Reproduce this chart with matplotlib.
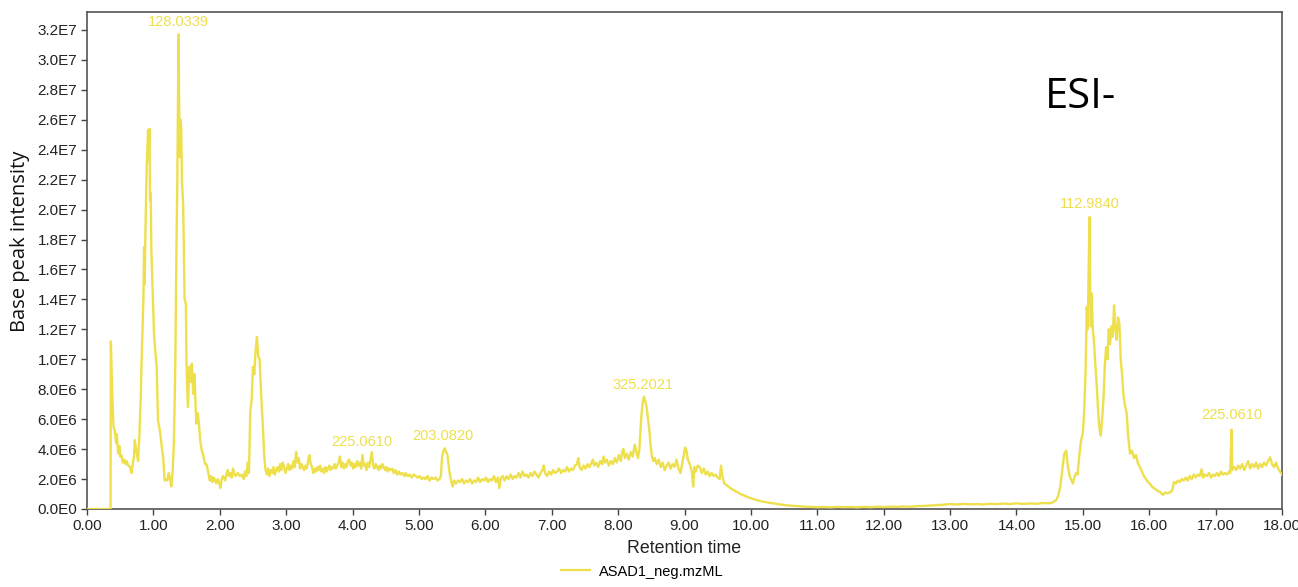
import math
import matplotlib
matplotlib.use("Agg")
import matplotlib.pyplot as plt
from matplotlib.ticker import FuncFormatter, MultipleLocator

# ---- data (retention time in min, base peak intensity in units of 1E6) ----
time_min = [
    0.00, 0.355, 0.36, 0.38, 0.40, 0.42, 0.44, 0.45, 0.47, 0.49, 0.50, 0.52, 0.54, 0.56, 0.58, 0.60,
    0.62, 0.65, 0.67, 0.69, 0.71, 0.72, 0.74, 0.76, 0.77, 0.79, 0.81, 0.82, 0.84, 0.85, 0.86, 0.87,
    0.88, 0.90, 0.92, 0.93, 0.94, 0.95, 0.96, 0.97, 0.99, 1.01, 1.03, 1.05, 1.07, 1.10, 1.12, 1.15,
    1.17, 1.19, 1.21, 1.23, 1.25, 1.27, 1.29, 1.31, 1.33, 1.35, 1.36, 1.38, 1.39, 1.40, 1.41, 1.42,
    1.43, 1.45, 1.47, 1.49, 1.50, 1.52, 1.54, 1.56, 1.58, 1.60, 1.62, 1.64, 1.65, 1.67, 1.69, 1.71,
    1.73, 1.75, 1.78, 1.80, 1.82, 1.85, 1.87, 1.89, 1.91, 1.93, 1.95, 1.97, 1.99, 2.01, 2.03, 2.05,
    2.08, 2.10, 2.12, 2.14, 2.16, 2.18, 2.20, 2.22, 2.24, 2.27, 2.30, 2.33, 2.36, 2.38, 2.40, 2.42,
    2.44, 2.46, 2.48, 2.50, 2.52, 2.54, 2.56, 2.58, 2.60, 2.62, 2.63, 2.65, 2.67, 2.69, 2.71, 2.73,
    2.75, 2.77, 2.79, 2.81, 2.83, 2.85, 2.87, 2.89, 2.91, 2.93, 2.95, 2.97, 2.99, 3.01, 3.03, 3.05,
    3.07, 3.09, 3.11, 3.13, 3.15, 3.17, 3.19, 3.21, 3.23, 3.25, 3.27, 3.29, 3.31, 3.33, 3.35, 3.37,
    3.39, 3.41, 3.43, 3.45, 3.47, 3.49, 3.51, 3.53, 3.55, 3.57, 3.59, 3.61, 3.63, 3.65, 3.67, 3.69,
    3.71, 3.73, 3.75, 3.77, 3.79, 3.81, 3.83, 3.85, 3.87, 3.89, 3.91, 3.93, 3.95, 3.97, 3.99, 4.01,
    4.03, 4.05, 4.07, 4.09, 4.11, 4.13, 4.15, 4.17, 4.19, 4.21, 4.23, 4.25, 4.27, 4.29, 4.31, 4.33,
    4.35, 4.37, 4.39, 4.41, 4.43, 4.45, 4.47, 4.49, 4.51, 4.53, 4.55, 4.57, 4.60, 4.62, 4.65, 4.67,
    4.70, 4.72, 4.75, 4.78, 4.80, 4.83, 4.86, 4.89, 4.92, 4.95, 4.98, 5.01, 5.04, 5.07, 5.10, 5.13,
    5.16, 5.19, 5.22, 5.25, 5.28, 5.31, 5.33, 5.35, 5.37, 5.39, 5.41, 5.43, 5.45, 5.47, 5.49, 5.51,
    5.53, 5.56, 5.59, 5.62, 5.65, 5.68, 5.71, 5.74, 5.77, 5.80, 5.83, 5.86, 5.89, 5.92, 5.95, 5.98,
    6.01, 6.04, 6.07, 6.10, 6.13, 6.16, 6.19, 6.21, 6.23, 6.26, 6.29, 6.32, 6.35, 6.38, 6.41, 6.44,
    6.47, 6.50, 6.53, 6.56, 6.59, 6.62, 6.65, 6.68, 6.71, 6.74, 6.77, 6.80, 6.83, 6.86, 6.88, 6.90,
    6.93, 6.96, 6.99, 7.02, 7.05, 7.08, 7.11, 7.14, 7.17, 7.20, 7.23, 7.26, 7.29, 7.32, 7.35, 7.38,
    7.40, 7.42, 7.45, 7.48, 7.51, 7.54, 7.57, 7.60, 7.62, 7.64, 7.67, 7.70, 7.73, 7.76, 7.78, 7.80,
    7.83, 7.86, 7.89, 7.92, 7.95, 7.98, 8.01, 8.04, 8.06, 8.08, 8.10, 8.13, 8.16, 8.19, 8.22, 8.25,
    8.28, 8.30, 8.32, 8.35, 8.37, 8.39, 8.41, 8.43, 8.45, 8.47, 8.49, 8.51, 8.53, 8.55, 8.58, 8.61,
    8.64, 8.67, 8.70, 8.73, 8.76, 8.79, 8.82, 8.85, 8.88, 8.91, 8.94, 8.96, 8.99, 9.01, 9.03, 9.05,
    9.08, 9.11, 9.13, 9.15, 9.17, 9.20, 9.23, 9.26, 9.29, 9.32, 9.35, 9.38, 9.41, 9.44, 9.47, 9.50,
    9.53, 9.55, 9.57, 9.60, 9.63, 9.66, 9.69, 9.72, 9.75, 9.78, 9.81, 9.84, 9.87, 9.90, 9.95, 10.00,
    10.05, 10.10, 10.15, 10.20, 10.25, 10.30, 10.35, 10.40, 10.45, 10.50, 10.55, 10.60, 10.70, 10.80, 10.90, 11.00,
    11.10, 11.20, 11.30, 11.40, 11.50, 11.60, 11.70, 11.80, 11.90, 12.00, 12.10, 12.20, 12.30, 12.40, 12.50, 12.60,
    12.70, 12.80, 12.90, 13.00, 13.10, 13.20, 13.30, 13.40, 13.50, 13.60, 13.70, 13.80, 13.90, 14.00, 14.10, 14.20,
    14.30, 14.40, 14.50, 14.55, 14.60, 14.63, 14.66, 14.69, 14.72, 14.75, 14.77, 14.80, 14.83, 14.85, 14.87, 14.90,
    14.92, 14.95, 14.97, 15.00, 15.02, 15.04, 15.06, 15.07, 15.08, 15.10, 15.11, 15.12, 15.13, 15.15, 15.17, 15.19,
    15.21, 15.23, 15.25, 15.27, 15.29, 15.31, 15.33, 15.35, 15.37, 15.39, 15.41, 15.43, 15.45, 15.47, 15.49, 15.51,
    15.53, 15.55, 15.57, 15.59, 15.61, 15.63, 15.66, 15.68, 15.71, 15.74, 15.77, 15.80, 15.83, 15.86, 15.89, 15.92,
    15.95, 15.98, 16.01, 16.04, 16.07, 16.10, 16.13, 16.16, 16.19, 16.21, 16.24, 16.27, 16.30, 16.33, 16.35, 16.37,
    16.40, 16.43, 16.46, 16.49, 16.52, 16.55, 16.58, 16.61, 16.64, 16.67, 16.70, 16.73, 16.76, 16.79, 16.81, 16.84,
    16.87, 16.90, 16.93, 16.96, 16.99, 17.02, 17.05, 17.08, 17.11, 17.14, 17.17, 17.20, 17.22, 17.24, 17.25, 17.28,
    17.31, 17.34, 17.37, 17.40, 17.43, 17.46, 17.49, 17.52, 17.55, 17.58, 17.61, 17.64, 17.67, 17.70, 17.73, 17.76,
    17.79, 17.82, 17.85, 17.88, 17.91, 17.94, 17.97, 18.00,
]

intensity_e6 = [
    0.0, 0.0, 11.2, 7.7, 5.5, 5.2, 4.4, 5.0, 3.7, 4.2, 3.5, 3.6, 3.1, 3.3, 3.0, 3.2,
    2.9, 2.8, 2.4, 3.0, 3.6, 4.6, 4.0, 3.5, 3.2, 5.0, 7.5, 9.5, 12.5, 14.0, 17.5, 15.0,
    18.5, 22.9, 25.3, 23.3, 25.4, 20.6, 21.1, 17.3, 14.4, 11.7, 10.5, 9.5, 5.9, 5.2, 4.4, 3.3,
    1.9, 2.0, 1.9, 2.4, 2.1, 1.5, 2.5, 4.6, 9.5, 18.4, 21.5, 31.7, 26.0, 23.5, 26.0, 25.4,
    22.0, 20.2, 14.0, 13.7, 9.5, 6.8, 9.5, 8.5, 9.7, 7.7, 9.0, 6.4, 5.7, 6.4, 5.5, 4.4,
    3.9, 3.6, 3.0, 3.0, 2.6, 1.9, 2.2, 1.8, 2.1, 1.9, 1.7, 2.0, 1.8, 1.4, 2.0, 2.2,
    1.9, 2.3, 2.6, 2.2, 2.4, 2.1, 2.7, 2.3, 2.2, 2.4, 2.2, 2.3, 2.0, 2.5, 2.2, 3.1,
    2.4, 6.5, 7.3, 9.5, 9.0, 10.6, 11.5, 10.2, 10.0, 8.0, 7.1, 5.5, 3.5, 2.6, 2.3, 2.7,
    2.2, 2.6, 2.4, 2.8, 2.3, 2.6, 2.8, 2.5, 3.0, 2.6, 3.1, 2.8, 2.4, 2.7, 3.0, 2.6,
    2.9, 2.7, 3.2, 2.8, 3.8, 3.1, 3.4, 2.7, 3.0, 2.8, 2.6, 2.9, 2.7, 3.2, 3.6, 3.0,
    2.8, 2.4, 2.7, 2.5, 2.8, 2.6, 2.9, 2.5, 2.7, 2.4, 2.8, 2.5, 2.7, 2.9, 2.6, 2.8,
    2.7, 3.0, 2.7, 2.9, 3.1, 3.5, 2.8, 3.1, 2.7, 3.0, 2.8, 3.2, 3.3, 2.9, 3.1, 2.7,
    3.0, 2.8, 3.2, 2.9, 3.1, 2.7, 3.6, 2.9, 3.0, 2.6, 3.1, 2.8, 3.3, 3.8, 2.9, 2.7,
    3.0, 2.8, 2.6, 2.9, 2.7, 3.0, 2.8, 2.6, 2.8, 2.5, 2.7, 2.6, 2.7, 2.4, 2.6, 2.3,
    2.5, 2.3, 2.4, 2.2, 2.4, 2.2, 2.3, 2.1, 2.3, 2.2, 2.1, 2.2, 2.0, 2.1, 2.0, 2.2,
    1.9, 2.1, 2.0, 2.1, 1.9, 2.0, 2.2, 3.5, 3.9, 4.05, 3.8, 3.6, 2.8, 2.2, 1.8, 1.5,
    1.9, 1.7, 1.9, 1.8, 2.0, 1.7, 1.9, 1.8, 2.0, 1.7, 1.9, 1.8, 2.1, 1.8, 2.0, 1.9,
    2.1, 1.8, 2.0, 1.9, 2.2, 1.8, 2.1, 1.4, 2.0, 2.2, 1.9, 2.2, 2.0, 2.3, 2.0, 2.2,
    2.1, 2.4, 2.1, 2.5, 2.2, 2.3, 2.1, 2.4, 2.2, 2.5, 2.3, 2.1, 2.4, 2.6, 2.9, 2.4,
    2.2, 2.5, 2.3, 2.6, 2.4, 2.5, 2.7, 2.4, 2.6, 2.5, 2.8, 2.5, 2.7, 2.6, 2.9, 3.0,
    3.4, 2.8, 2.6, 2.9, 2.7, 3.0, 2.8, 3.1, 3.3, 2.9, 3.1, 2.8, 3.2, 3.0, 3.5, 3.1,
    3.3, 2.9, 3.2, 3.0, 3.4, 3.1, 3.6, 3.2, 3.8, 4.0, 3.4, 3.7, 3.3, 3.8, 3.5, 4.3,
    3.7, 3.4, 4.0, 6.2, 7.1, 7.5, 7.2, 6.8, 6.0, 5.3, 4.2, 3.5, 3.2, 3.4, 3.0, 3.3,
    2.8, 3.1, 2.6, 2.9, 3.1, 2.7, 3.0, 2.8, 3.3, 2.7, 2.4, 2.9, 3.6, 4.1, 3.9, 3.3,
    3.0, 2.5, 1.5, 2.8, 2.5, 2.9, 2.8, 2.4, 2.7, 2.3, 2.5, 2.2, 2.4, 2.2, 2.3, 2.1,
    2.0, 2.9, 2.2, 1.7, 1.6, 1.5, 1.4, 1.3, 1.25, 1.15, 1.1, 1.0, 0.95, 0.9, 0.8, 0.72,
    0.65, 0.58, 0.52, 0.48, 0.44, 0.40, 0.37, 0.33, 0.30, 0.27, 0.24, 0.22, 0.19, 0.16, 0.14, 0.12,
    0.13, 0.11, 0.14, 0.12, 0.13, 0.11, 0.14, 0.12, 0.15, 0.13, 0.16, 0.14, 0.17, 0.15, 0.19, 0.20,
    0.23, 0.26, 0.28, 0.33, 0.30, 0.34, 0.31, 0.33, 0.30, 0.35, 0.32, 0.36, 0.33, 0.38, 0.34, 0.37,
    0.35, 0.40, 0.38, 0.45, 0.60, 0.90, 1.5, 2.6, 3.7, 3.9, 3.0, 2.2, 1.9, 1.7, 2.1, 2.4,
    2.3, 3.7, 4.5, 5.1, 6.5, 9.1, 13.5, 12.0, 14.0, 19.5, 15.0, 12.2, 14.4, 12.0, 11.0, 9.5,
    8.2, 6.5, 5.4, 4.9, 6.0, 7.3, 9.5, 10.8, 10.0, 12.0, 11.0, 12.2, 11.5, 13.6, 12.0, 11.3,
    12.8, 12.4, 10.0, 9.0, 7.7, 7.0, 6.4, 5.0, 3.7, 3.9, 3.4, 3.6, 3.05, 2.8, 2.5, 2.2,
    2.0, 1.8, 1.7, 1.5, 1.4, 1.3, 1.2, 1.15, 1.0, 0.95, 1.1, 1.05, 1.1, 1.15, 1.3, 1.8,
    1.7, 1.9, 1.8, 2.0, 1.9, 2.1, 1.9, 2.2, 2.0, 2.3, 2.1, 2.3, 2.2, 2.65, 2.1, 2.3,
    2.2, 2.4, 2.1, 2.3, 2.2, 2.4, 2.2, 2.5, 2.3, 2.4, 2.3, 2.5, 2.4, 5.3, 2.6, 2.8,
    2.6, 2.9, 2.7, 3.0, 2.6, 2.9, 3.2, 2.7, 3.0, 2.8, 3.1, 2.7, 3.0, 2.8, 3.1, 2.9,
    3.2, 3.45, 3.0, 2.8, 3.1, 2.7, 2.5, 2.3,
]

# peak labels: (label, retention time, label height in 1E6)
peak_labels = ["128.0339", "225.0610", "203.0820", "325.2021", "112.9840", "225.0610"]
peak_times = [1.37, 4.14, 5.36, 8.37, 15.10, 17.24]
peak_label_heights = [32.5, 4.48, 4.88, 8.28, 20.4, 6.28]

x_ticks = list(range(0, 19))
series_name = "ASAD1_neg.mzML"
line_color = "#EDE04C"

intensity = [v * 1e6 for v in intensity_e6]

fig = plt.figure(figsize=(12.98, 5.87), dpi=100)
ax = fig.add_axes([0.0670, 0.1329, 0.9207, 0.8467])

ax.plot(time_min, intensity, color=line_color, lw=1.7, label=series_name, zorder=3)

ax.set_xlim(0, 18)
ax.set_ylim(0, 3.32e7)
ax.set_xticks(x_ticks)
ax.xaxis.set_major_formatter(FuncFormatter(lambda v, p: f"{v:.2f}"))
ax.yaxis.set_major_locator(MultipleLocator(2e6))


def sci_fmt(v, p):
    if v == 0:
        return "0.0E0"
    e = int(math.floor(math.log10(abs(v)) + 1e-9))
    m = v / 10 ** e
    return f"{m:.1f}E{e}"


ax.yaxis.set_major_formatter(FuncFormatter(sci_fmt))

for lab in ax.get_xticklabels() + ax.get_yticklabels():
    lab.set_fontfamily("Liberation Sans")
    lab.set_fontsize(11)
    lab.set_color("#222222")
ax.tick_params(axis="both", direction="out", length=4, width=1, color="#444444", pad=3)

for s in ax.spines.values():
    s.set_color("#555555")
    s.set_linewidth(1.2)

ax.set_xlabel("Retention time", fontfamily="Liberation Sans", fontsize=12.8, color="#222222", labelpad=5)
ax.set_ylabel("Base peak intensity", fontfamily="Open Sans", fontsize=14.5, color="#111111")
ax.yaxis.set_label_coords(-0.048, 0.539)

for lab, t, h in zip(peak_labels, peak_times, peak_label_heights):
    ax.text(t, h * 1e6, lab, color=line_color, fontsize=10.5, fontfamily="Liberation Sans",
            ha="center", va="center", zorder=4)

ax.text(0.8017, 0.829, "ESI-", transform=ax.transAxes, fontsize=30, fontfamily="Open Sans",
        color="black", ha="left", va="center")

leg = fig.legend(loc="lower center", bbox_to_anchor=(0.495, -0.008), frameon=False,
                 prop={"family": "Liberation Sans", "size": 10.5}, handlelength=2.0, handletextpad=0.6)
for h in leg.legend_handles:
    h.set_linewidth(1.6)

fig.savefig("out.png", dpi=100)
